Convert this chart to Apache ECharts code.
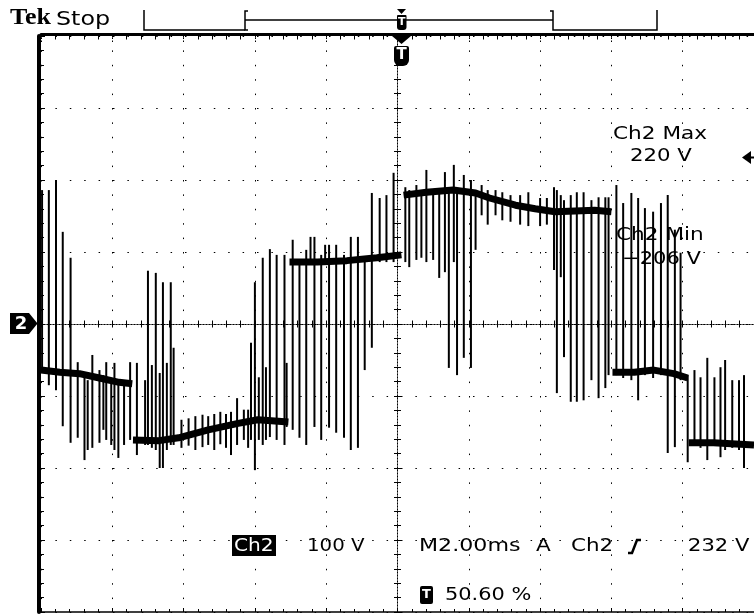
<!DOCTYPE html>
<html><head><meta charset="utf-8">
<script src="https://cdn.jsdelivr.net/npm/echarts/dist/echarts.min.js"></script>
<style>html,body{margin:0;padding:0;background:#fff}#c{width:754px;height:614px}</style>
</head><body><div id="c"></div>
<script>
// Time in ms relative to trigger (2 ms/div), voltage in V (100 V/div)
// Baseline band of the trace; null marks a switching step (drawn by the spikes)
const bandT = [-10.00,-9.47,-8.92,-8.36,-7.81,-7.44,-7.43,-7.42,-6.69,-6.14,-5.31,-4.47,-3.92,-3.06,-3.05,-3.03,-2.25,-1.42,-0.58,0.11,0.14,0.17,0.81,1.56,2.19,2.58,3.31,3.86,4.42,5.53,6.00,6.02,6.03,6.64,7.19,7.75,8.14,8.15,8.17,8.86,10.00];
const bandV = [-64,-67,-69,-75,-81,-83,null,-161,-162,-158,-147,-138,-133,-136,null,86,86,88,92,96,null,179,183,186,182,175,165,160,156,158,156,null,-67,-67,-64,-69,-75,null,-165,-165,-168];

const spikeT = [-9.97,-9.78,-9.58,-9.39,-9.17,-8.97,-8.78,-8.69,-8.56,-8.36,-8.25,-8.17,-8.03,-7.94,-7.83,-7.67,-7.50,
  -7.31,-7.08,-7.00,-6.89,-6.78,-6.67,-6.58,-6.47,-6.36,-6.28,
  -6.06,-5.86,-5.67,-5.47,-5.31,-5.14,-4.97,-4.81,-4.67,-4.50,-4.31,-4.19,-4.11,-4.00,-3.89,-3.78,-3.69,-3.58,-3.39,-3.17,-3.11,
  -2.94,-2.75,-2.56,-2.44,-2.33,-2.14,-2.03,-1.92,-1.72,-1.50,-1.31,-1.11,-0.92,-0.72,-0.50,-0.31,-0.11,
  0.22,0.33,0.53,0.67,0.81,1.00,1.17,1.33,1.44,1.58,1.67,1.86,2.06,2.19,2.36,2.53,2.75,2.94,3.17,3.44,3.67,4.00,4.19,
  4.39,4.47,4.58,4.67,4.86,5.03,5.22,5.44,5.64,5.83,5.92,
  6.14,6.33,6.56,6.75,6.94,7.17,7.39,7.58,7.78,7.94,8.14,
  8.33,8.50,8.69,8.89,9.06,9.19,9.39,9.58,9.72];
const spikeHi = [186,186,200,128,92,-53,-67,-78,-43,-64,-71,-53,-75,-54,-78,-78,-53,
  -54,-78,74,-57,71,-68,58,-54,58,-33,
  -133,-131,-128,-126,-128,-125,-122,-125,-122,-103,-119,-119,-26,58,-74,92,-60,104,96,96,-54,
  117,86,103,121,121,96,110,110,110,96,121,121,92,182,175,179,210,
  190,186,193,186,214,186,186,211,186,221,186,207,200,186,193,186,186,183,179,179,183,175,175,
  190,186,179,172,179,183,183,172,176,176,176,
  193,168,182,175,161,156,168,179,131,99,-71,
  -64,-74,-47,-74,-60,-50,-78,-78,-71];
const spikeLo = [-67,-85,-92,-142,-165,-158,-189,-175,-172,-165,-147,-161,-168,-175,-186,-168,-161,
  -182,-168,-168,-172,-175,-200,-200,-175,-168,-168,
  -172,-169,-175,-171,-168,-175,-167,-172,-182,-168,-161,-172,-161,-203,-161,-168,-161,-157,-161,-168,-143,
  -147,-158,-168,86,-143,-161,86,-144,-151,-158,-175,-172,-64,-33,86,86,86,
  86,79,89,92,86,89,64,72,-61,86,-71,-47,-61,103,151,138,151,144,142,138,136,136,138,
  75,-96,65,-46,-108,-108,-106,-78,-103,-89,-71,
  -71,-75,-78,-106,-71,-75,-71,-179,-171,-78,-192,
  -168,-172,-189,-168,-185,-175,-172,-175,-200];

const chart = echarts.init(document.getElementById('c'), null, {renderer:'canvas'});
const K = '#000';
const dotGrid = {color:K, width:1, type:[1.5,12.9]};
const centerLine = {color:K, width:1, type:[1,2]};
const hide = {show:false};

function txt(x, y, s, size, sx, extra) {
  return Object.assign({type:'text', x:x, y:y, scaleX:sx, z:10,
    style:{text:s, fontFamily:'DejaVu Sans', fontSize:size, fill:K,
      align:'left', verticalAlign:'middle', textAlign:'left', textVerticalAlign:'middle'}}, extra || {});
}
function ctxt(x, y, s, size, color, family) {
  return {type:'text', x:x, y:y, z:101,
    style:{text:s, fontFamily:family || 'DejaVu Sans', fontWeight:'bold', fontSize:size, fill:color,
      align:'center', verticalAlign:'middle', textAlign:'center', textVerticalAlign:'middle'}};
}

const option = {
  animation:false,
  backgroundColor:'#fff',
  grid:{left:41, top:36, width:720, height:576, containLabel:false},
  xAxis:[
    {type:'value', min:-10, max:10, interval:2, position:'bottom',
      axisLine:{show:true, onZero:false, lineStyle:{color:K, width:1.5}},
      axisTick:{show:true, inside:true, length:4, lineStyle:{color:K}},
      minorTick:{show:true, splitNumber:5, length:3, lineStyle:{color:K}},
      splitLine:{show:true, lineStyle:dotGrid}, axisLabel:hide},
    {type:'value', min:-10, max:10, interval:2, position:'top', offset:1.5,
      axisLine:{show:true, onZero:false, lineStyle:{color:K, width:3}},
      axisTick:{show:true, inside:true, length:8, lineStyle:{color:K, type:[1.5,1.5]}},
      minorTick:{show:true, splitNumber:5, length:5, lineStyle:{color:K}},
      splitLine:hide, axisLabel:hide},
    {type:'value', min:-10, max:10, interval:0.4, position:'bottom',
      axisLine:{show:true, onZero:true, onZeroAxisIndex:0, lineStyle:centerLine},
      axisTick:{show:true, inside:true, length:3.5, lineStyle:{color:K}},
      splitLine:hide, axisLabel:hide},
    {type:'value', min:-10, max:10, interval:0.4, position:'top',
      axisLine:{show:true, onZero:true, onZeroAxisIndex:0, lineStyle:centerLine},
      axisTick:{show:true, inside:true, length:3.5, lineStyle:{color:K}},
      splitLine:hide, axisLabel:hide}
  ],
  yAxis:[
    {type:'value', min:-400, max:400, interval:100, position:'left', offset:2,
      axisLine:{show:true, onZero:false, lineStyle:{color:K, width:4}},
      axisTick:{show:true, inside:true, length:6, lineStyle:{color:K}},
      minorTick:{show:true, splitNumber:5, length:5, lineStyle:{color:K}},
      splitLine:{show:true, lineStyle:dotGrid}, axisLabel:hide},
    {type:'value', min:-400, max:400, interval:20, position:'left',
      axisLine:{show:true, onZero:true, onZeroAxisIndex:0, lineStyle:centerLine},
      axisTick:{show:true, inside:true, length:3.5, lineStyle:{color:K}},
      splitLine:hide, axisLabel:hide},
    {type:'value', min:-400, max:400, interval:20, position:'right',
      axisLine:{show:true, onZero:true, onZeroAxisIndex:0, lineStyle:centerLine},
      axisTick:{show:true, inside:true, length:3.5, lineStyle:{color:K}},
      splitLine:hide, axisLabel:hide}
  ],
  series:[
    {type:'line', xAxisIndex:0, yAxisIndex:0, z:5, connectNulls:false,
      data: bandT.map((t,i)=>[t, bandV[i]]),
      symbol:'none', showSymbol:false, lineStyle:{color:K, width:7}},
    {type:'custom', xAxisIndex:0, yAxisIndex:0, z:6,
      data: spikeT.map((t,i)=>[t, spikeHi[i], spikeLo[i]]),
      encode:{x:0, y:[1,2]},
      renderItem:function(params, api){
        const a = api.coord([api.value(0), api.value(1)]);
        const b = api.coord([api.value(0), api.value(2)]);
        return {type:'line', shape:{x1:a[0], y1:a[1], x2:b[0], y2:b[1]},
          style:{stroke:K, lineWidth:2}};
      }}
  ],
  graphic:[
    // top status bar
    {type:'text', x:10, y:18, scaleX:1.13, z:10, style:{text:'Tek', fontFamily:'Liberation Serif', fontWeight:'bold', fontSize:23, fill:K, align:'left', verticalAlign:'middle', textAlign:'left', textVerticalAlign:'middle'}},
    txt(56, 20, 'Stop', 20, 1.19),
    {type:'polyline', z:10, shape:{points:[[144,10],[144,30],[245,30]]}, style:{stroke:K, lineWidth:1.5, fill:null}},
    {type:'polyline', z:10, shape:{points:[[248,11],[245,11],[245,30],[248,30]]}, style:{stroke:K, lineWidth:1.5, fill:null}},
    {type:'line', z:10, shape:{x1:245, y1:20, x2:553, y2:20}, style:{stroke:K, lineWidth:1.5}},
    {type:'polyline', z:10, shape:{points:[[550,11],[553,11],[553,30],[657,30],[657,10]]}, style:{stroke:K, lineWidth:1.5, fill:null}},
    {type:'polygon', z:100, shape:{points:[[397,9],[406,9],[401.5,14]]}, style:{fill:K}},
    {type:'rect', z:100, shape:{x:397, y:15, width:9.5, height:15, r:[1,1,3,3]}, style:{fill:K}},
    ctxt(401.7, 22.5, 'T', 11, '#fff'),
    // trigger position marker
    {type:'polygon', z:100, shape:{points:[[392,36],[411,36],[401.5,44]]}, style:{fill:K}},
    {type:'rect', z:100, shape:{x:394, y:46, width:15, height:20, r:[2,2,6,6]}, style:{fill:K}},
    ctxt(401.5, 55.5, 'T', 15, '#fff'),
    // channel 2 ground marker
    {type:'polygon', z:100, shape:{points:[[10,313],[29,313],[37.5,323.5],[29,334],[10,334]]}, style:{fill:K}},
    ctxt(21, 324, '2', 18, '#fff'),
    // measurements
    txt(613, 134.5, 'Ch2 Max', 18, 1.2),
    txt(630, 156.5, '220 V', 18, 1.18),
    {type:'polygon', z:10, shape:{points:[[742,157.5],[751,151],[751,164]]}, style:{fill:K}},
    {type:'rect', z:10, shape:{x:750, y:156.5, width:5, height:2}, style:{fill:K}},
    txt(616, 235.5, 'Ch2 Min', 18, 1.2, {z:1}),
    txt(622, 259.5, '\u2212206 V', 18, 1.17, {z:1}),
    // bottom readout
    {type:'rect', z:10, shape:{x:232, y:535, width:44, height:21}, style:{fill:K}},
    txt(234, 546, 'Ch2', 18, 1.12, {style:{text:'Ch2', fontFamily:'DejaVu Sans', fontSize:18, fill:'#fff', align:'left', verticalAlign:'middle', textAlign:'left', textVerticalAlign:'middle'}}),
    txt(307, 546, '100 V', 18, 1.1),
    txt(419, 546, 'M2.00ms', 18, 1.23),
    txt(536, 546, 'A', 18, 1.2),
    txt(571, 546, 'Ch2', 18, 1.19),
    {type:'polyline', z:10, shape:{points:[[628,553],[632,553],[637,540],[641,540]]}, style:{stroke:K, lineWidth:2.5, fill:null}},
    txt(688, 546, '232 V', 18, 1.17),
    {type:'rect', z:10, shape:{x:420, y:586, width:13, height:18, r:2}, style:{fill:K}},
    ctxt(426.5, 595, 'T', 13, '#fff'),
    txt(445, 595, '50.60 %', 18, 1.16)
  ]
};
chart.setOption(option);
</script>
</body></html>
